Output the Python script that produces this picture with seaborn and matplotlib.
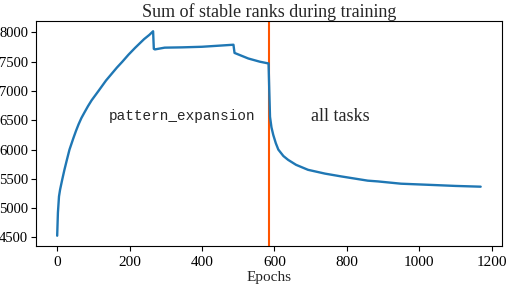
import matplotlib
matplotlib.use("Agg")
import matplotlib.pyplot as plt
import seaborn as sns
import pandas as pd

# Values
epochs = [0, 2, 5, 8, 14, 20, 27, 34, 45, 52, 59, 67, 75, 85, 95, 114, 135, 150,
          165, 180, 197, 215, 240, 255, 265,
          267, 270, 297, 345, 400, 450, 487, 490, 528, 560, 584, 586, 588, 592,
          597, 604, 611, 625, 638, 660, 693, 740, 785, 858, 886, 950, 1042, 1100, 1170]
stable_rank_sum = [4530, 4920, 5200, 5316, 5490, 5655, 5830, 6000, 6200, 6320, 6430,
                   6540, 6630, 6740, 6840, 7000, 7180, 7290, 7400, 7500, 7620,
                   7735, 7885, 7960, 8020,
                   7720, 7710, 7740, 7745, 7755, 7775, 7790, 7650, 7555, 7500, 7470,
                   7000, 6560, 6380,
                   6250, 6110, 6000, 5890, 5825, 5740, 5655, 5590, 5542, 5470, 5457,
                   5418, 5395, 5380, 5367]
switch_epoch = 585
phase_labels = ["pattern_expansion", "all tasks"]
label_x = [344, 782]
label_y = 6570

df = pd.DataFrame({"Epochs": epochs, "rank": stable_rank_sum})

sns.set_style("ticks")
plt.rcParams["font.family"] = ["Liberation Serif", "DejaVu Serif"]
plt.rcParams["xtick.major.size"] = 3.5
plt.rcParams["ytick.major.size"] = 3.5
plt.rcParams["axes.edgecolor"] = "black"
plt.rcParams["axes.linewidth"] = 0.8
plt.rcParams["xtick.color"] = "black"
plt.rcParams["ytick.color"] = "black"

fig, ax = plt.subplots(figsize=(5.1, 2.88), dpi=100)
fig.subplots_adjust(left=0.0706, right=0.984, top=0.927, bottom=0.146)

ax.axvline(switch_epoch, color="#ff5500", lw=1.5, zorder=1)
sns.lineplot(data=df, x="Epochs", y="rank", ax=ax, color="#1f77b4", lw=1.7, zorder=2)

ax.text(label_x[0], label_y, phase_labels[0], ha="center", va="center",
        fontsize=10.4, family=["Liberation Mono", "DejaVu Sans Mono"])
ax.text(label_x[1], label_y, phase_labels[1], ha="center", va="center", fontsize=13)

ax.set_xticks([0, 200, 400, 600, 800, 1000, 1200])
ax.set_yticks([4500, 5000, 5500, 6000, 6500, 7000, 7500, 8000])
ax.tick_params(axis="x", labelsize=11)
ax.tick_params(axis="y", labelsize=10.5, pad=2)
ax.set_xlabel("Epochs", fontsize=11, labelpad=2)
ax.set_ylabel("")
ax.set_title("Sum of stable ranks during training", fontsize=13, pad=3)

fig.savefig("out.png", dpi=100)
